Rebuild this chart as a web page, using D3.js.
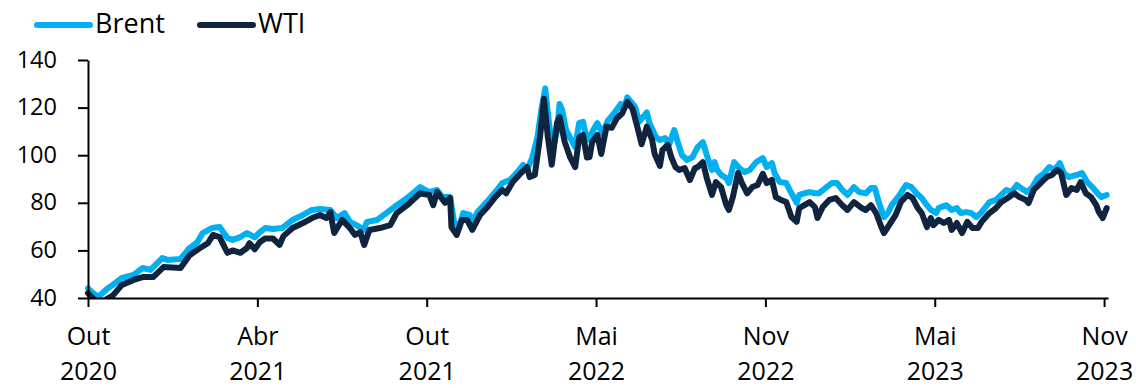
<!DOCTYPE html>
<html>
<head>
<meta charset="utf-8">
<script src="https://cdn.jsdelivr.net/npm/d3@7/dist/d3.min.js"></script>
<style>
  html, body { margin: 0; padding: 0; background: #fff; }
  svg { display: block; font-family: "Open Sans", sans-serif; }
</style>
</head>
<body>
<svg id="chart" width="1136" height="388"></svg>
<script>
// Trading-day index since the start of October 2020 for each sample
const brentDays = [0,4,8,15,19,26,35,42,48,57,61,71,78,84,88,95,101,107,111,117,122,128,132,136,142,149,157,165,172,178,186,191,197,201,206,212,214,222,229,237,245,255,262,268,272,278,281,285,288,293,295,299,306,314,318,324,329,334,337,341,345,348,351,354,357,360,362,364,367,371,374,377,380,383,387,391,395,399,404,409,411,414,420,423,429,431,436,439,443,446,450,453,456,460,464,468,472,475,479,481,483,486,490,492,496,500,504,508,513,518,521,525,527,531,536,540,544,546,550,554,558,561,567,571,575,579,583,588,592,597,601,604,607,611,614,617,623,628,632,636,640,644,647,651,653,659,663,667,670,674,678,682,686,692,697,701,705,709,713,716,721,725,729,734,738,742,746,749,753,759,763,767,771,775,778,782];
// Brent, USD per barrel
const brentPrice = [44,42,40.5,44,45.5,48.4,49.7,52.6,51.8,56.8,56,56.4,61,63.5,67.3,69.4,69.8,65.2,64.4,65.6,67.3,65.5,67.7,69.4,69,69.4,72.8,74.9,77,77.4,77,73.6,75.7,72,70.6,68.6,72,72.8,75.7,79,82,86.6,84.5,85.4,82.4,82.4,72,69.8,75.7,74.9,71.5,76.1,80.3,85.4,88.3,89.6,92.5,95.9,93.8,98.8,107.6,119,128,113,103,110,121.5,119,110.6,106.4,103.4,113.5,114,106.4,109.7,113.5,109,114.5,117.7,121.5,119,124.3,120.3,114,118,113.5,107.6,106.4,107.2,104.3,110.6,105,100,98,99.2,103.4,105.5,100,93.8,97.1,93.8,91.7,90.4,88.3,97.1,94.6,92.9,93.8,97.1,98.8,95,96.7,92.5,88.7,88.3,84,80,83.3,84,84.5,84,84,86.6,88.3,88.3,85.4,83.3,86.6,84.5,84,86.2,86.2,80.3,74,75.7,79,83.3,87.5,86.6,84,82,79,77,75.7,77.8,79,77,77.8,75.7,76.1,75.7,74,76.1,80.3,81.2,83.3,85.4,84.5,87.5,86.2,84.5,86.6,90.4,92.5,95,93.8,96.7,92.5,90.8,91.7,92.5,88.7,86.6,84,82.4,83.3];

const wtiDays = [0,8,19,26,35,42,50,58,71,78,86,92,96,101,107,111,117,122,124,128,132,136,142,147,150,157,165,172,178,183,186,189,195,201,205,209,212,216,224,232,237,245,255,262,265,268,274,278,279,283,287,291,295,301,306,312,318,321,326,331,337,339,343,347,350,353,356,360,362,366,370,374,377,380,383,385,387,391,394,398,402,406,410,414,418,422,425,429,433,435,439,441,445,448,451,454,458,462,466,468,472,475,479,482,486,490,492,495,499,502,506,510,514,518,521,525,528,532,536,540,544,546,550,554,558,560,564,569,574,579,583,588,594,597,601,605,609,611,615,620,624,629,633,637,640,644,647,649,653,657,661,663,667,671,675,679,683,686,692,697,701,706,711,715,720,722,726,732,736,740,744,747,751,755,759,762,766,770,774,776,779,782];
// WTI, USD per barrel
const wtiPrice = [42,37.5,41,45.5,47.6,48.8,48.8,53,52.6,58,61,63,66.5,65.6,59,60,59,61,63,60.5,63.5,65,65,62.3,66,69.4,71.5,73.6,74.9,73.6,76.1,67.3,72.8,69.4,66.5,67.7,62.3,68.6,69.4,70.6,75.7,79,84,83.3,79,84.5,80,82,69.8,66.5,72.8,72.8,68.6,74.9,77.8,82,85.4,84,88.7,91.7,95,90.8,91.7,107.6,123.7,107.6,96,113.5,116,105.5,99.2,95,107.4,108.5,99,99.2,105.5,108.5,100.5,112,111.5,115.5,117.5,122.4,119.5,111.2,104.6,112,106.5,100.5,95.5,102.2,104.3,98.8,95,93.8,94.6,89.6,94.6,95,97.1,90.4,83.3,88.7,86.6,79,77,82.4,92.5,88.3,84,86.6,87.5,92.2,88.3,89.6,82.4,81.2,80.3,74,72,77.8,79,80.3,78.2,73.6,78.2,81.2,82,79,77,80.3,77.8,77,79,75.7,69.8,67.3,70.6,74.9,80.3,83.3,82,77.8,75.7,69.8,73.6,70.6,72.8,71.5,72.8,68.6,71.5,67.3,72,69.4,69.4,72,75.7,77.8,80.3,82,84,82.4,81.2,79.9,85.4,88.7,90.8,91.7,93.8,92.5,83.3,86.2,85.4,88.7,84,82.4,79,76.1,73.6,77.8];

// Axis ticks
const yTicks = [40, 60, 80, 100, 120, 140];
const xTickDays = [0, 130, 260, 390, 520, 650, 780];
const xTickMonths = ["Out", "Abr", "Out", "Mai", "Nov", "Mai", "Nov"];
const xTickYears = ["2020", "2021", "2021", "2022", "2022", "2023", "2023"];

const seriesNames = ["Brent", "WTI"];
const seriesColors = ["#00B0F0", "#10233F"];

const svg = d3.select("#chart");

const x = d3.scaleLinear().domain([0, 783]).range([88, 1108]);
const y = d3.scaleLinear().domain([40, 140]).range([298, 60]);

// Clip lines to the plotting area
svg.append("defs").append("clipPath").attr("id", "plot-clip")
  .append("rect")
  .attr("x", x(0) - 6).attr("y", y(140) - 10)
  .attr("width", x(783) - x(0) + 12).attr("height", y(40) - y(140) + 10);

const line = d3.line()
  .x(d => x(d[0]))
  .y(d => y(d[1]));

const series = [
  d3.zip(brentDays, brentPrice),
  d3.zip(wtiDays, wtiPrice)
];

const lines = svg.append("g").attr("clip-path", "url(#plot-clip)");
series.forEach((pts, i) => {
  lines.append("path")
    .datum(pts)
    .attr("fill", "none")
    .attr("stroke", seriesColors[i])
    .attr("stroke-width", 6)
    .attr("stroke-linejoin", "round")
    .attr("stroke-linecap", "round")
    .attr("d", line);
});

// Y axis
const yAxis = svg.append("g")
  .attr("transform", `translate(${x(0)},0)`)
  .call(d3.axisLeft(y).tickValues(yTicks).tickSize(10).tickSizeOuter(0).tickPadding(21));
yAxis.select(".domain").attr("stroke", "#000").attr("stroke-width", 2);
yAxis.selectAll(".tick line").attr("stroke", "#000").attr("stroke-width", 2);
yAxis.selectAll(".tick text")
  .attr("font-family", "'Open Sans', sans-serif")
  .attr("font-size", 23.5)
  .attr("fill", "#000")
  .attr("dy", "0.3em");

// X axis with two-line (month / year) labels
const xAxis = svg.append("g")
  .attr("transform", `translate(0,${y(40)})`)
  .call(d3.axisBottom(x).tickValues(xTickDays).tickSize(9).tickSizeOuter(0).tickFormat(() => ""));
xAxis.select(".domain").attr("stroke", "#000").attr("stroke-width", 2);
xAxis.selectAll(".tick line").attr("stroke", "#000").attr("stroke-width", 2);
xAxis.selectAll(".tick text").remove();
xAxis.selectAll(".tick").each(function(d, i) {
  const t = d3.select(this).append("text")
    .attr("text-anchor", "middle")
    .attr("font-family", "'Open Sans', sans-serif")
    .attr("font-size", 25)
    .attr("fill", "#000");
  t.append("tspan").attr("x", 0).attr("y", 47).text(xTickMonths[i]);
  t.append("tspan").attr("x", 0).attr("y", 82).text(xTickYears[i]);
});

// Legend
const legendX = [37, 200];
const legend = svg.append("g");
seriesNames.forEach((name, i) => {
  legend.append("line")
    .attr("x1", legendX[i]).attr("x2", legendX[i] + 53)
    .attr("y1", 25).attr("y2", 25)
    .attr("stroke", seriesColors[i])
    .attr("stroke-width", 6)
    .attr("stroke-linecap", "round");
  legend.append("text")
    .attr("x", legendX[i] + 58).attr("y", 33)
    .attr("font-size", 27)
    .attr("fill", "#000")
    .text(name);
});
</script>
</body>
</html>
